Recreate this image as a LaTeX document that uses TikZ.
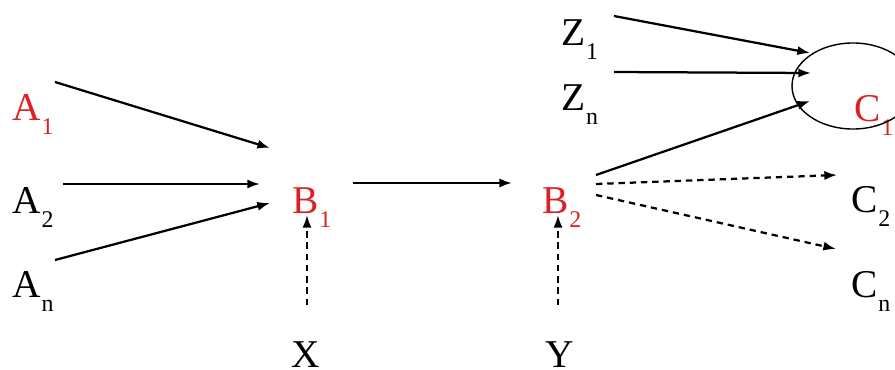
\documentclass[tikz,border=0pt]{standalone}
\usepackage{fontspec}
\setmainfont{Liberation Serif}
\usetikzlibrary{arrows.meta}
\definecolor{varred}{RGB}{220,32,36}
\newcommand{\var}[2]{#1\kern0.6pt\raisebox{-10.6pt}{\fontsize{17}{17}\selectfont #2}}
\begin{document}
\begin{tikzpicture}[
    x=0.025cm, y=-0.025cm,
    lbl/.style={anchor=base west, inner sep=0pt, font=\fontsize{28}{28}\selectfont},
    hot/.style={lbl, text=varred},
    arr/.style={line width=1.6pt, -{Latex[length=9pt,width=6.5pt]}},
    darr/.style={arr, dash pattern=on 4.5pt off 3.5pt}
]
    \clip (0,0) rectangle (895,369);
    % Inputs of B_1
    \node[hot] (A1) at (12,120) {\var{A}{1}};
    \node[lbl] (A2) at (12,213) {\var{A}{2}};
    \node[lbl] (An) at (12,297) {\var{A}{n}};
    \node[lbl] (X) at (291,367) {X};
    % Middle
    \node[hot] (B1) at (292,213) {\var{B}{1}};
    \node[hot] (B2) at (542,213) {\var{B}{2}};
    \node[lbl] (Y) at (545,367) {Y};
    % Right side
    \node[lbl] (Z1) at (561,45) {\var{Z}{1}};
    \node[lbl] (Zn) at (561,110) {\var{Z}{n}};
    \node[hot] (C1) at (854,121) {\var{C}{1}};
    \node[lbl] (C2) at (851,212) {\var{C}{2}};
    \node[lbl] (Cn) at (851,297) {\var{C}{n}};
    \draw[line width=1pt] (853,86) ellipse [x radius=1.525cm, y radius=1.075cm];
    % Edges into B_1
    \draw[arr] ([shift={(43,-38)}]A1.base west) -- ([shift={(-22,-65)}]B1.base west);
    \draw[arr] ([shift={(51,-29)}]A2.base west) -- ([shift={(-32,-29)}]B1.base west);
    \draw[arr] ([shift={(43,-37)}]An.base west) -- ([shift={(-22,-10)}]B1.base west);
    \draw[darr] ([shift={(16,-62)}]X.base west) -- ([shift={(15,2)}]B1.base west);
    % B_1 to B_2
    \draw[arr] ([shift={(61,-30)}]B1.base west) -- ([shift={(-30,-30)}]B2.base west);
    \draw[darr] ([shift={(13,-62)}]Y.base west) -- ([shift={(16,2)}]B2.base west);
    % Edges out of B_2
    \draw[arr] ([shift={(54,-38)}]B2.base west) -- ([shift={(-44,-20)}]C1.base west);
    \draw[darr] ([shift={(54,-29)}]B2.base west) -- ([shift={(-14,-37)}]C2.base west);
    \draw[darr] ([shift={(54,-18)}]B2.base west) -- ([shift={(-15,-48)}]Cn.base west);
    % Z inputs of C_1
    \draw[arr] ([shift={(53,-29)}]Z1.base west) -- ([shift={(-44,-68)}]C1.base west);
    \draw[arr] ([shift={(53,-38)}]Zn.base west) -- ([shift={(-43,-48)}]C1.base west);
\end{tikzpicture}
\end{document}
